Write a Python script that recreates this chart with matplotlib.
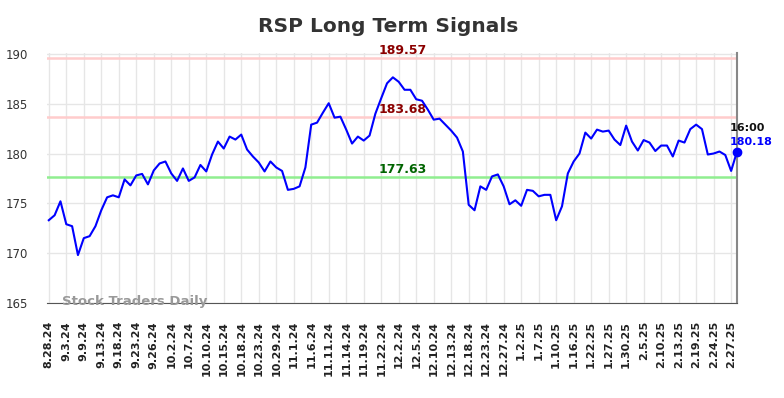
import matplotlib
matplotlib.use("Agg")
import matplotlib.pyplot as plt
import numpy as np

# Closing prices (one per session)
prices = [
    173.3, 173.8, 175.2, 172.9, 172.7, 169.8, 171.5, 171.7, 172.7, 174.3,
    175.6, 175.8, 175.6, 177.4, 176.8, 177.8, 177.95, 176.9, 178.3, 179.0,
    179.2, 178.0, 177.25, 178.5, 177.25, 177.6, 178.85, 178.2, 179.9, 181.2,
    180.5, 181.7, 181.4, 181.9, 180.4, 179.7, 179.1, 178.2, 179.2, 178.6,
    178.25, 176.35, 176.45, 176.7, 178.6, 182.9, 183.1, 184.1, 185.05, 183.6,
    183.7, 182.4, 181.0, 181.7, 181.3, 181.8, 184.0, 185.55, 187.05, 187.65,
    187.2, 186.4, 186.4, 185.45, 185.3, 184.4, 183.4, 183.5, 182.9, 182.3,
    181.6, 180.2, 174.85, 174.3, 176.7, 176.35, 177.7, 177.9, 176.7, 174.9,
    175.3, 174.75, 176.35, 176.25, 175.7, 175.85, 175.85, 173.3, 174.7, 178.0,
    179.2, 180.0, 182.1, 181.5, 182.4, 182.2, 182.3, 181.4, 180.85, 182.8,
    181.2, 180.3, 181.35, 181.1, 180.25, 180.8, 180.8, 179.7, 181.3, 181.1,
    182.45, 182.9, 182.45, 179.9, 180.0, 180.2, 179.85, 178.25, 180.18,
]

tick_labels = [
    "8.28.24", "9.3.24", "9.9.24", "9.13.24", "9.18.24", "9.23.24", "9.26.24",
    "10.2.24", "10.7.24", "10.10.24", "10.15.24", "10.18.24", "10.23.24",
    "10.29.24", "11.1.24", "11.6.24", "11.11.24", "11.14.24", "11.19.24",
    "11.22.24", "12.2.24", "12.5.24", "12.10.24", "12.13.24", "12.18.24",
    "12.23.24", "12.27.24", "1.2.25", "1.7.25", "1.10.25", "1.16.25",
    "1.22.25", "1.27.25", "1.30.25", "2.5.25", "2.10.25", "2.13.25",
    "2.19.25", "2.24.25", "2.27.25",
]

resistance = [189.57, 183.68]
support = [177.63]
last_time = "16:00"

x = np.arange(len(prices))
tick_pos = x[::3][:len(tick_labels)]

fig = plt.figure(figsize=(7.84, 3.98), dpi=100)
ax = fig.add_axes([0.060, 0.239, 0.880, 0.628])

ax.set_xlim(-0.3, len(prices) - 1)
ax.set_ylim(165, 190.1)

ax.set_xticks(tick_pos)
ax.set_xticklabels(tick_labels, rotation=90, fontsize=8, fontweight="bold",
                   color="#222222")
ax.set_yticks([165, 170, 175, 180, 185, 190])
ax.tick_params(axis="x", length=0, pad=13)
ax.tick_params(axis="y", length=0, pad=14, labelsize=8.5, labelcolor="#333333")

ax.grid(True, color="#e6e6e6", linewidth=1)
ax.set_axisbelow(True)

for s in ["top", "left"]:
    ax.spines[s].set_visible(False)
ax.spines["bottom"].set_color("#555555")
ax.spines["right"].set_color("#888888")
ax.spines["right"].set_linewidth(1.5)

label_x = 60.7
for lvl in resistance:
    ax.axhline(lvl, color="#ffcccc", linewidth=1.8, zorder=1)
    ax.text(label_x, lvl + 0.12, f"{lvl:.2f}", color="#8b0000", fontsize=9,
            fontweight="bold", ha="center", va="bottom")
for lvl in support:
    ax.axhline(lvl, color="#90ee90", linewidth=1.8, zorder=1)
    ax.text(label_x, lvl + 0.12, f"{lvl:.2f}", color="#006400", fontsize=9,
            fontweight="bold", ha="center", va="bottom")

ax.plot(x, prices, color="#0000ff", linewidth=1.5, zorder=3)
ax.plot(x[-1], prices[-1], "o", color="#0000ff", markersize=6, zorder=4,
        clip_on=False)

ax.annotate(last_time, (x[-1], prices[-1]), xytext=(-5, 17),
            textcoords="offset points", ha="left", va="center",
            fontsize=8, fontweight="bold", color="#111111")
ax.annotate(f"{prices[-1]:.2f}", (x[-1], prices[-1]), xytext=(-5, 7),
            textcoords="offset points", ha="left", va="center",
            fontsize=8, fontweight="bold", color="#0000ff")

ax.text(0.022, 0.004, "Stock Traders Daily", transform=ax.transAxes,
        fontsize=9.5, fontweight="bold", color="#999999", ha="left",
        va="center", zorder=5)

fig.suptitle("RSP Long Term Signals", fontsize=14.5, fontweight="bold",
             color="#333333", x=0.495, y=0.957)

plt.savefig("out.png", dpi=100)
